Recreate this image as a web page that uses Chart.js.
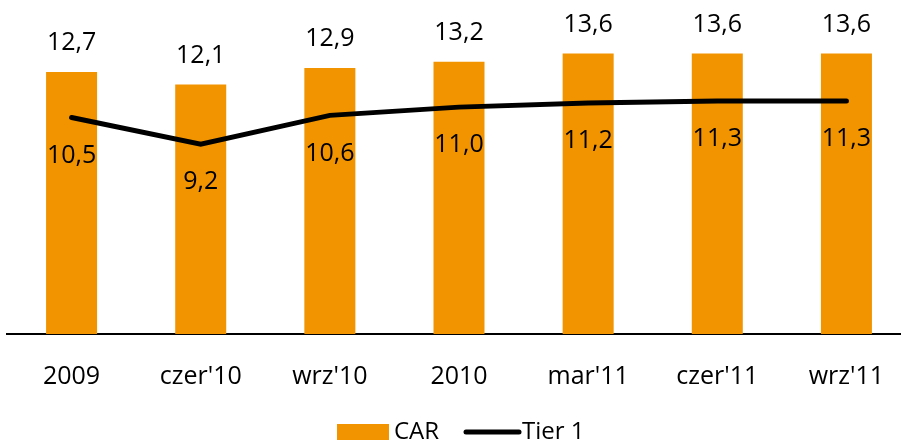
<!DOCTYPE html>
<html>
<head>
<meta charset="utf-8">
<script src="https://cdn.jsdelivr.net/npm/chart.js@4"></script>
<style>
  html, body { margin: 0; padding: 0; background: #fff; overflow: hidden; }
  #wrap { width: 911px; height: 441px; }
</style>
</head>
<body>
<div id="wrap"><canvas id="chart" width="911" height="441"></canvas></div>
<script>
// Chart data
const categories = ['2009', "czer'10", "wrz'10", '2010', "mar'11", "czer'11", "wrz'11"];
const carValues = [12.7, 12.1, 12.9, 13.2, 13.6, 13.6, 13.6];
const tier1Values = [10.5, 9.2, 10.6, 11.0, 11.2, 11.3, 11.3];

const ORANGE = '#F29400';
const FONT = "'Open Sans', sans-serif";

const fmt = v => v.toFixed(1).replace('.', ',');

// Value labels: CAR above bars, Tier 1 below line points
const valueLabels = {
    id: 'valueLabels',
    afterDatasetsDraw(chart) {
        const ctx = chart.ctx;
        ctx.save();
        ctx.fillStyle = '#000';
        ctx.font = '25px ' + FONT;
        ctx.textAlign = 'center';
        ctx.textBaseline = 'middle';
        chart.getDatasetMeta(0).data.forEach((bar, i) => {
            ctx.fillText(fmt(carValues[i]), bar.x, bar.y - 29);
        });
        chart.getDatasetMeta(1).data.forEach((pt, i) => {
            ctx.fillText(fmt(tier1Values[i]), pt.x, pt.y + 38);
        });
        ctx.restore();
    }
};

// Legend drawn at bottom center
const bottomLegend = {
    id: 'bottomLegend',
    afterDraw(chart) {
        const ctx = chart.ctx;
        const y = 432;
        ctx.save();
        ctx.font = '24px ' + FONT;
        ctx.textBaseline = 'middle';
        ctx.fillStyle = ORANGE;
        ctx.fillRect(337, y - 8, 52, 16);
        ctx.fillStyle = '#000';
        ctx.fillText('CAR', 394, y);
        ctx.strokeStyle = '#000';
        ctx.lineWidth = 5;
        ctx.lineCap = 'round';
        ctx.beginPath();
        ctx.moveTo(466, y);
        ctx.lineTo(519, y);
        ctx.stroke();
        ctx.fillText('Tier 1', 522, y);
        ctx.restore();
    }
};

new Chart(document.getElementById('chart').getContext('2d'), {
    data: {
        labels: categories,
        datasets: [
            {
                type: 'bar',
                label: 'CAR',
                data: carValues,
                backgroundColor: ORANGE,
                categoryPercentage: 1,
                barPercentage: 0.395,
                order: 2
            },
            {
                type: 'line',
                label: 'Tier 1',
                data: tier1Values,
                borderColor: '#000',
                borderWidth: 5,
                borderCapStyle: 'round',
                pointRadius: 0,
                tension: 0,
                order: 1
            }
        ]
    },
    options: {
        responsive: false,
        animation: false,
        layout: { padding: { left: 7, right: 0, top: 4, bottom: 29 } },
        scales: {
            x: {
                grid: { display: false },
                border: { display: true, color: '#000', width: 2 },
                ticks: { color: '#000', font: { size: 25, family: FONT }, padding: 20 }
            },
            y: {
                display: false,
                min: 0,
                max: 16
            }
        },
        plugins: {
            legend: { display: false },
            tooltip: { enabled: false }
        }
    },
    plugins: [valueLabels, bottomLegend]
});
</script>
</body>
</html>
